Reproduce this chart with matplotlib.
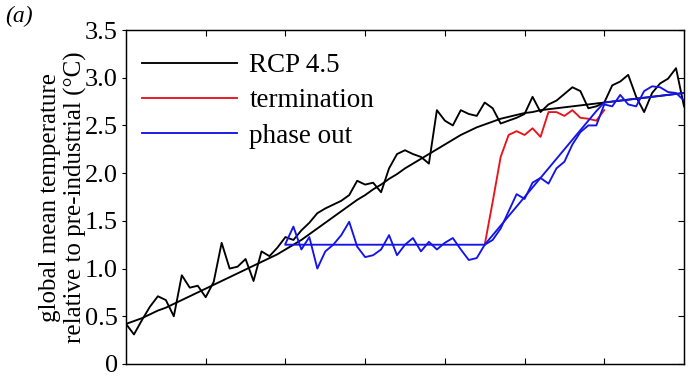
import numpy as np
import matplotlib
matplotlib.use("Agg")
import matplotlib.pyplot as plt

# ------------------------------------------
# data
# ------------------------------------------
years = np.arange(2020, 2091)

rcp45_noisy = [
    0.42, 0.31, 0.46, 0.60, 0.71, 0.67, 0.50, 0.93, 0.80, 0.82,
    0.70, 0.86, 1.27, 1.00, 1.02, 1.10, 0.87, 1.18, 1.13, 1.22,
    1.33, 1.30, 1.40, 1.48, 1.58, 1.63, 1.67, 1.71, 1.77, 1.92,
    1.88, 1.90, 1.80, 2.05, 2.20, 2.24, 2.20, 2.17, 2.10, 2.66,
    2.55, 2.50, 2.66, 2.62, 2.60, 2.74, 2.68, 2.52, 2.55, 2.58,
    2.62, 2.80, 2.64, 2.72, 2.76, 2.83, 2.90, 2.86, 2.68, 2.70,
    2.74, 2.92, 2.96, 3.03, 2.80, 2.64, 2.84, 2.94, 2.99, 3.10,
    2.70,
]
rcp45_smooth = [
    0.42, 0.45, 0.48, 0.52, 0.56, 0.59, 0.63, 0.67, 0.71, 0.75,
    0.79, 0.83, 0.87, 0.91, 0.95, 0.99, 1.03, 1.07, 1.11, 1.15,
    1.20, 1.25, 1.30, 1.36, 1.42, 1.48, 1.54, 1.60, 1.66, 1.72,
    1.77, 1.83, 1.88, 1.94, 1.99, 2.05, 2.10, 2.15, 2.20, 2.25,
    2.30, 2.35, 2.40, 2.44, 2.48, 2.51, 2.54, 2.57, 2.59, 2.61,
    2.63, 2.64, 2.66, 2.67, 2.68, 2.69, 2.70, 2.71, 2.72, 2.73,
    2.74, 2.75, 2.76, 2.77, 2.78, 2.79, 2.80, 2.81, 2.82, 2.83,
    2.84,
]

term_years = np.arange(2065, 2081)
termination = [
    1.25, 1.70, 2.17, 2.40, 2.44, 2.40, 2.47, 2.38, 2.64, 2.64,
    2.60, 2.66, 2.58, 2.57, 2.55, 2.66,
]

phase_years = np.arange(2040, 2091)
phase_noisy = [
    1.26, 1.44, 1.20, 1.33, 1.00, 1.18, 1.25, 1.35, 1.49, 1.23,
    1.12, 1.14, 1.20, 1.35, 1.14, 1.25, 1.32, 1.18, 1.28, 1.20,
    1.27, 1.32, 1.20, 1.09, 1.11, 1.25, 1.30, 1.42, 1.60, 1.78,
    1.73, 1.90, 1.95, 1.89, 2.05, 2.12, 2.30, 2.43, 2.50, 2.50,
    2.72, 2.70, 2.82, 2.72, 2.70, 2.86, 2.91, 2.90, 2.85, 2.84,
    2.76,
]
phase_smooth = [
    1.25, 1.25, 1.25, 1.25, 1.25, 1.25, 1.25, 1.25, 1.25, 1.25,
    1.25, 1.25, 1.25, 1.25, 1.25, 1.25, 1.25, 1.25, 1.25, 1.25,
    1.25, 1.25, 1.25, 1.25, 1.25, 1.25, 1.35, 1.45, 1.55, 1.65,
    1.75, 1.85, 1.95, 2.05, 2.15, 2.25, 2.35, 2.45, 2.55, 2.65,
    2.74, 2.75, 2.76, 2.77, 2.78, 2.79, 2.80, 2.81, 2.82, 2.83,
    2.84,
]

y_ticks = [0, 0.5, 1.0, 1.5, 2.0, 2.5, 3.0, 3.5]
y_ticklabels = ["0", "0.5", "1.0", "1.5", "2.0", "2.5", "3.0", "3.5"]
x_ticks = [2030, 2040, 2050, 2060, 2070, 2080]

# ------------------------------------------
# plot
# ------------------------------------------
plt.rcParams["font.family"] = ["Liberation Serif", "DejaVu Serif"]

red = "#e8141b"
blue = "#1414e6"
lw = 1.35

fig = plt.figure(figsize=(6.88, 3.78), dpi=100)
ax = fig.add_axes([126 / 688, 14 / 378, 558 / 688, 334 / 378])

ax.plot(years, rcp45_noisy, color="black", lw=lw, label="RCP 4.5")
ax.plot(years, rcp45_smooth, color="black", lw=lw)
ax.plot(term_years, termination, color=red, lw=lw, label="termination")
ax.plot(phase_years, phase_noisy, color=blue, lw=lw, label="phase out")
ax.plot(phase_years, phase_smooth, color=blue, lw=lw)

ax.set_xlim(2020, 2090)
ax.set_ylim(0, 3.5)
ax.set_xticks(x_ticks)
ax.set_xticklabels([])
ax.set_yticks(y_ticks)
ax.set_yticklabels(y_ticklabels, fontsize=19)
ax.tick_params(axis="x", direction="in", top=True, bottom=True, length=4, width=0.8)
ax.tick_params(axis="y", direction="out", left=True, right=False, length=3, width=0.8, pad=3)

# right-hand ticks point inward
ax2 = ax.twinx()
ax2.set_ylim(0, 3.5)
ax2.set_yticks(y_ticks)
ax2.set_yticklabels([])
ax2.tick_params(axis="y", direction="in", length=4, width=0.8)

for a in (ax, ax2):
    for s in a.spines.values():
        s.set_linewidth(0.9)

ax.set_ylabel("global mean temperature\nrelative to pre-industrial (°C)",
              fontsize=18, linespacing=1.2, labelpad=-2)

leg = ax.legend(loc="upper left", bbox_to_anchor=(-0.012, 1.0), frameon=False,
                fontsize=19.5, handlelength=3.5, handletextpad=0.45,
                labelspacing=0.38, borderaxespad=0.55, borderpad=0.3)

fig.text(0.008, 0.985, "(a)", fontsize=17, style="italic", va="top", ha="left")

fig.savefig("out.png", dpi=100)
